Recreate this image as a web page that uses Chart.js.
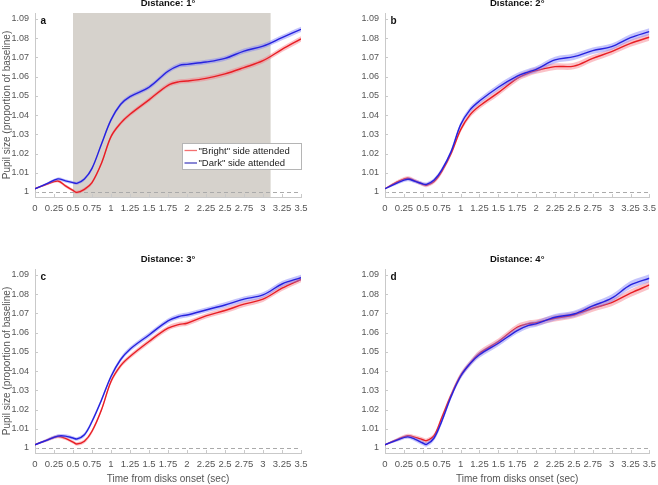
<!DOCTYPE html>
<html>
<head>
<meta charset="utf-8">
<script src="https://cdn.jsdelivr.net/npm/chart.js@4.4.1/dist/chart.umd.min.js"></script>
<style>
  html, body { margin: 0; padding: 0; background: #fff; }
  body { width: 658px; height: 485px; overflow: hidden; position: relative; }
  canvas { position: absolute; }
</style>
</head>
<body>
<canvas id="pa" width="330" height="243" style="left:0;top:-3px;width:330px;height:243px"></canvas>
<canvas id="pb" width="332" height="243" style="left:330px;top:-3px;width:332px;height:243px"></canvas>
<canvas id="pc" width="330" height="248" style="left:0;top:237px;width:330px;height:248px"></canvas>
<canvas id="pd" width="332" height="248" style="left:330px;top:237px;width:332px;height:248px"></canvas>
<script>
// ---- data ----
const time = [0, 0.15, 0.3, 0.4, 0.5, 0.55, 0.65, 0.75, 0.875, 1, 1.125, 1.25, 1.5, 1.75, 1.9, 2, 2.25, 2.5, 2.75, 3, 3.25, 3.5];

// Distance 1°
const aBright = [1.0017, 1.0040, 1.0057, 1.0032, 1.0008, 0.9998, 1.0014, 1.0049, 1.0150, 1.0288, 1.0357, 1.0404, 1.0479, 1.0555, 1.0574, 1.0577, 1.0591, 1.0614, 1.0647, 1.0683, 1.0742, 1.0796];
const aDark   = [1.0017, 1.0042, 1.0068, 1.0058, 1.0049, 1.0045, 1.0068, 1.0123, 1.0250, 1.0375, 1.0455, 1.0496, 1.0545, 1.0628, 1.0659, 1.0664, 1.0676, 1.0695, 1.0733, 1.0759, 1.0803, 1.0846];
const aErr    = [0.0003, 0.0006, 0.0008, 0.0008, 0.0008, 0.0008, 0.0009, 0.0010, 0.0010, 0.0011, 0.0011, 0.0011, 0.0012, 0.0012, 0.0012, 0.0012, 0.0012, 0.0013, 0.0013, 0.0013, 0.0014, 0.0014];
// Distance 2°
const bBright = [1.0017, 1.0050, 1.0072, 1.0058, 1.0040, 1.0035, 1.0055, 1.0106, 1.0200, 1.0323, 1.0401, 1.0447, 1.0517, 1.0591, 1.0618, 1.0631, 1.0652, 1.0655, 1.0695, 1.0730, 1.0773, 1.0805];
const bDark   = [1.0017, 1.0045, 1.0066, 1.0055, 1.0042, 1.0040, 1.0062, 1.0114, 1.0210, 1.0349, 1.0427, 1.0473, 1.0545, 1.0603, 1.0625, 1.0638, 1.0687, 1.0704, 1.0735, 1.0756, 1.0803, 1.0834];
const bErr    = [0.0003, 0.0008, 0.0010, 0.0010, 0.0010, 0.0010, 0.0011, 0.0012, 0.0013, 0.0014, 0.0015, 0.0015, 0.0016, 0.0016, 0.0016, 0.0016, 0.0017, 0.0017, 0.0017, 0.0017, 0.0018, 0.0018];
// Distance 3°
const cBright = [1.0017, 1.0040, 1.0060, 1.0050, 1.0031, 1.0021, 1.0035, 1.0087, 1.0199, 1.0346, 1.0427, 1.0476, 1.0554, 1.0623, 1.0643, 1.0649, 1.0687, 1.0715, 1.0748, 1.0774, 1.0831, 1.0877];
const cDark   = [1.0017, 1.0040, 1.0062, 1.0062, 1.0052, 1.0047, 1.0069, 1.0138, 1.0250, 1.0372, 1.0459, 1.0514, 1.0588, 1.0661, 1.0685, 1.0692, 1.0718, 1.0744, 1.0774, 1.0796, 1.0853, 1.0886];
const cErr    = [0.0003, 0.0007, 0.0009, 0.0009, 0.0009, 0.0009, 0.0010, 0.0011, 0.0011, 0.0012, 0.0012, 0.0012, 0.0013, 0.0013, 0.0013, 0.0013, 0.0013, 0.0014, 0.0014, 0.0014, 0.0015, 0.0015];
// Distance 4°
const dBright = [1.0017, 1.0042, 1.0064, 1.0055, 1.0043, 1.0038, 1.0064, 1.0156, 1.0275, 1.0376, 1.0440, 1.0493, 1.0554, 1.0628, 1.0647, 1.0652, 1.0675, 1.0692, 1.0727, 1.0756, 1.0805, 1.0848];
const dDark   = [1.0017, 1.0040, 1.0058, 1.0045, 1.0026, 1.0019, 1.0052, 1.0138, 1.0268, 1.0372, 1.0438, 1.0485, 1.0545, 1.0611, 1.0638, 1.0646, 1.0680, 1.0697, 1.0739, 1.0779, 1.0848, 1.0883];
const dErr    = [0.0003, 0.0008, 0.0010, 0.0011, 0.0012, 0.0012, 0.0013, 0.0014, 0.0015, 0.0015, 0.0015, 0.0016, 0.0016, 0.0016, 0.0016, 0.0016, 0.0017, 0.0017, 0.0018, 0.0019, 0.0020, 0.0021];

const xTicks = [0, 0.25, 0.5, 0.75, 1, 1.25, 1.5, 1.75, 2, 2.25, 2.5, 2.75, 3, 3.25, 3.5];
const xTickLabels = ['0', '0.25', '0.5', '0.75', '1', '1.25', '1.5', '1.75', '2', '2.25', '2.5', '2.75', '3', '3.25', '3.5'];
const yTicks = [1, 1.01, 1.02, 1.03, 1.04, 1.05, 1.06, 1.07, 1.08, 1.09];
const yTickLabels = ['1', '1.01', '1.02', '1.03', '1.04', '1.05', '1.06', '1.07', '1.08', '1.09'];
const shadeWindow = [0.5, 3.1];   // grey window in panel a
const baseline = 1;

const seriesNames = ['"Bright" side attended', '"Dark" side attended'];
const yTitle = 'Pupil size (proportion of baseline)';
const xTitle = 'Time from disks onset (sec)';

// ---- styles ----
const FONT = '"Liberation Sans", Arial, Helvetica, sans-serif';
const RED = 'rgb(232,30,36)', RED_BAND = 'rgba(246,120,130,0.45)', RED_KEY = 'rgb(244,112,112)';
const BLUE = 'rgb(38,34,222)', BLUE_BAND = 'rgba(124,124,248,0.45)', BLUE_KEY = 'rgb(74,70,190)';
const AXIS = '#c9c9c9', TICK_TXT = '#555';

Chart.defaults.font.family = FONT;
Chart.defaults.color = TICK_TXT;

const deco = {
  id: 'deco',
  beforeDatasetsDraw(chart, args, o) {
    const { ctx, chartArea: ca, scales: { x, y } } = chart;
    ctx.save();
    if (o.shade) {
      ctx.fillStyle = 'rgb(214,210,204)';
      const x0 = x.getPixelForValue(o.shade[0]), x1 = x.getPixelForValue(o.shade[1]);
      ctx.fillRect(x0, ca.top, x1 - x0, ca.bottom - ca.top);
    }
    // dashed baseline
    const yb = Math.round(y.getPixelForValue(baseline)) + 0.5;
    ctx.strokeStyle = '#aaa';
    ctx.lineWidth = 1;
    ctx.setLineDash([4, 3]);
    ctx.beginPath(); ctx.moveTo(ca.left, yb); ctx.lineTo(ca.right, yb); ctx.stroke();
    ctx.restore();
  },
  afterDraw(chart, args, o) {
    const { ctx, chartArea: ca, scales: { x, y } } = chart;
    ctx.save();
    // inward tick marks
    ctx.strokeStyle = AXIS; ctx.lineWidth = 1;
    ctx.beginPath();
    x.ticks.forEach(t => {
      const px = Math.round(x.getPixelForValue(t.value)) + 0.5;
      ctx.moveTo(px, ca.bottom); ctx.lineTo(px, ca.bottom - 3);
    });
    y.ticks.forEach(t => {
      const py = Math.round(y.getPixelForValue(t.value)) + 0.5;
      ctx.moveTo(ca.left, py); ctx.lineTo(ca.left + 3, py);
    });
    ctx.stroke();

    // panel title and letter
    ctx.fillStyle = '#111';
    ctx.font = 'bold 9.5px ' + FONT;
    ctx.textAlign = 'center'; ctx.textBaseline = 'middle';
    ctx.fillText(o.title, (ca.left + ca.right) / 2, ca.top - 10);
    ctx.font = 'bold 10px ' + FONT;
    ctx.textAlign = 'left';
    ctx.fillText(o.letter, ca.left + 5.5, ca.top + 8);

    // legend box inside the plot (panel a only)
    if (o.legend) {
      const items = chart.data.datasets.filter(d => d.keyColor).sort((a, b) => a.keyRank - b.keyRank);
      const w = 119, h = 26;
      const bx = ca.right - w + 0.5, by = ca.top + 130.5;
      ctx.fillStyle = '#fff'; ctx.fillRect(bx, by, w, h);
      ctx.strokeStyle = '#b5b5b5'; ctx.strokeRect(bx, by, w, h);
      ctx.font = '9.5px ' + FONT;
      items.forEach((d, i) => {
        const cy = by + 7 + i * 12.5;
        ctx.strokeStyle = d.keyColor; ctx.lineWidth = 1.3;
        ctx.beginPath(); ctx.moveTo(bx + 2, cy); ctx.lineTo(bx + 14.5, cy); ctx.stroke();
        ctx.fillStyle = '#222';
        ctx.fillText(d.label, bx + 16, cy + 0.5);
      });
    }
    ctx.restore();
  }
};

function pts(vals, err, sign) {
  return vals.map((v, i) => ({ x: time[i], y: err ? v + sign * err[i] : v }));
}

function panel(id, p) {
  const lineStyle = { pointRadius: 0, borderWidth: 1.4, fill: false, tension: 0.35 };
  const bandStyle = { pointRadius: 0, borderWidth: 0, tension: 0.35 };
  return new Chart(document.getElementById(id), {
    type: 'line',
    data: {
      datasets: [
        { ...lineStyle, label: seriesNames[1], data: pts(p.dark), borderColor: BLUE, keyColor: BLUE_KEY, keyRank: 2 },
        { ...bandStyle, data: pts(p.dark, p.err, 1), fill: '+1', backgroundColor: BLUE_BAND },
        { ...bandStyle, data: pts(p.dark, p.err, -1), fill: false },
        { ...lineStyle, label: seriesNames[0], data: pts(p.bright), borderColor: RED, keyColor: RED_KEY, keyRank: 1 },
        { ...bandStyle, data: pts(p.bright, p.err, 1), fill: '+1', backgroundColor: RED_BAND },
        { ...bandStyle, data: pts(p.bright, p.err, -1), fill: false }
      ]
    },
    options: {
      responsive: false,
      animation: false,
      devicePixelRatio: 1,
      layout: { padding: { left: 0, right: p.padRight, top: p.padTop, bottom: 0 } },
      plugins: {
        legend: { display: false },
        tooltip: { enabled: false },
        deco: { title: p.title, letter: p.letter, shade: p.shade, legend: p.legend }
      },
      scales: {
        x: {
          type: 'linear', min: 0, max: 3.5,
          afterBuildTicks: s => { s.ticks = xTicks.map(v => ({ value: v })); },
          afterFit: s => { s.height = p.xHeight; },
          ticks: { autoSkip: false, maxRotation: 0, minRotation: 0, padding: 6,
                   font: { size: 9.5 }, color: TICK_TXT,
                   callback: (v, i) => xTickLabels[i] },
          grid: { display: false, drawTicks: false },
          border: { display: true, color: AXIS, width: 1 },
          title: { display: !!p.xTitle, text: xTitle, color: TICK_TXT, font: { size: 10 }, padding: { top: 0, bottom: 0 } }
        },
        y: {
          type: 'linear', min: 0.9974, max: 1.0931,
          afterBuildTicks: s => { s.ticks = yTicks.map(v => ({ value: v })); },
          afterFit: s => { s.width = p.yWidth; },
          ticks: { padding: 6, font: { size: 9 }, color: TICK_TXT,
                   callback: (v, i) => yTickLabels[i] },
          grid: { display: false, drawTicks: false },
          border: { display: true, color: AXIS, width: 1 },
          title: { display: !!p.yTitle, text: yTitle, color: TICK_TXT, font: { size: 10 }, padding: { top: 1, bottom: 0 } }
        }
      }
    },
    plugins: [deco]
  });
}

panel('pa', { bright: aBright, dark: aDark, err: aErr, title: 'Distance: 1°', letter: 'a', shade: shadeWindow, legend: true,
              yTitle: true, xTitle: false, padTop: 16, padRight: 29, yWidth: 35, xHeight: 43 });
panel('pb', { bright: bBright, dark: bDark, err: bErr, title: 'Distance: 2°', letter: 'b',
              yTitle: false, xTitle: false, padTop: 16, padRight: 10.3, yWidth: 55, xHeight: 43 });
panel('pc', { bright: cBright, dark: cDark, err: cErr, title: 'Distance: 3°', letter: 'c',
              yTitle: true, xTitle: true, padTop: 32, padRight: 29, yWidth: 35, xHeight: 32 });
panel('pd', { bright: dBright, dark: dDark, err: dErr, title: 'Distance: 4°', letter: 'd',
              yTitle: false, xTitle: true, padTop: 32, padRight: 10.3, yWidth: 55, xHeight: 32 });
</script>
</body>
</html>
